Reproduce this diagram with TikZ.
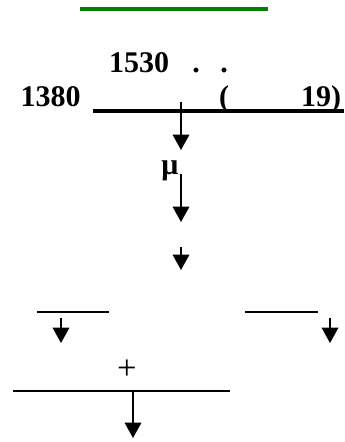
\documentclass[tikz,border=0pt]{standalone}
\usepackage{fontspec}
\setmainfont{Liberation Serif}
\usetikzlibrary{arrows.meta}
\definecolor{RuleGreen}{HTML}{008000}

\begin{document}
\begin{tikzpicture}[x=0.75pt, y=-0.75pt,
  numlbl/.style={font=\fontsize{22.5}{26}\selectfont\bfseries, inner sep=0pt, anchor=base},
  downarr/.style={-{Triangle[width=12.5pt,length=11.5pt]}, line width=0.9pt}]
\useasboundingbox (0,0) rectangle (344,442);

% Green rule at the top
\draw[RuleGreen, line width=2.4pt] (80,9) -- (268,9);

% Numbers above the main rule
\node[numlbl] (yrHigh) at (139,73) {1530};
\node[numlbl] (dotA) at (196,73) {.};
\node[numlbl] (dotB) at (224,73) {.};
\node[numlbl] (yrLow) at (50.5,107) {1380};
\node[numlbl] (parOpen) at (224,107) {(};
\node[numlbl] (parNum) at (321,107) {19)};

% Main rule
\draw[line width=2.6pt] (93,111) -- (344,111);

% Chain of arrows down the middle
\coordinate (topS) at (181,102);
\coordinate (topE) at (181,150);
\draw[downarr] (topS) -- (topE);

\node[numlbl] (mu) at (170,174) {μ};
\coordinate (midS) at (181,174);
\coordinate (midE) at (181,222);
\draw[downarr] (midS) -- (midE);

\coordinate (lowS) at (181,247);
\coordinate (lowE) at (181,270);
\draw[downarr] (lowS) -- (lowE);

% Two short rules with arrows
\draw[line width=0.9pt] (37,312) -- (109,312);
\draw[line width=0.9pt] (245,312) -- (318,312);
\coordinate (leftS) at (61,318);
\coordinate (leftE) at (61,343);
\draw[downarr] (leftS) -- (leftE);
\coordinate (rightS) at (330,318);
\coordinate (rightE) at (330,343);
\draw[downarr] (rightS) -- (rightE);

% Sum rule
\node[font=\fontsize{26}{28}\selectfont, inner sep=0pt] (plus) at (127,370) {+};
\draw[line width=1.1pt] (13,391) -- (230,391);
\coordinate (sumS) at (133,391);
\coordinate (sumE) at (133,438);
\draw[downarr] (sumS) -- (sumE);
\end{tikzpicture}
\end{document}
